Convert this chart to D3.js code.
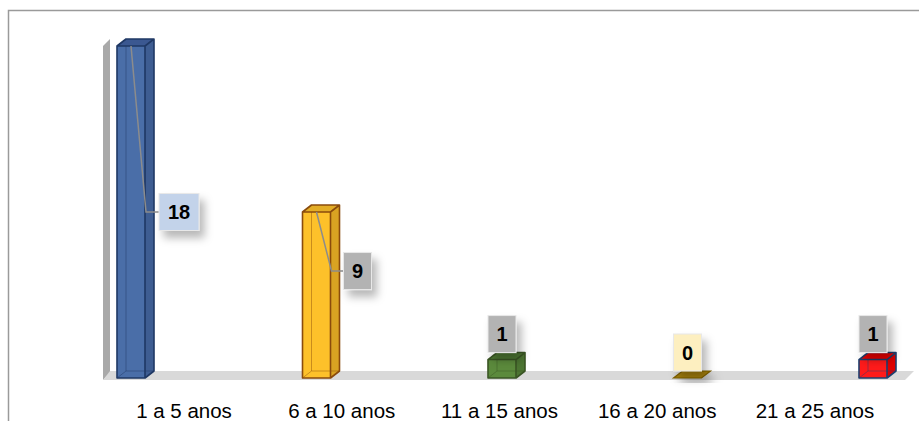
<!DOCTYPE html>
<html>
<head>
<meta charset="utf-8">
<script src="https://cdn.jsdelivr.net/npm/d3@7"></script>
<style>
  html, body { margin: 0; padding: 0; background: #fff; }
  svg { display: block; }
</style>
</head>
<body>
<div id="chart"></div>
<script>
const categories = ["1 a 5 anos", "6 a 10 anos", "11 a 15 anos", "16 a 20 anos", "21 a 25 anos"]
const values = [18, 9, 1, 0, 1]
const labelText = ["18", "9", "1", "0", "1"]

// look of each bar: front, side, top, edge, label box
const barStyles = [
  { front: "#4a6ea8", side: "#3e5d92", top: "#3b5891", edge: "#1f3864", box: "#c3d3ea" },
  { front: "#fdc12a", side: "#d9a322", top: "#e3ad26", edge: "#8a4b0c", box: "#b3b3b3" },
  { front: "#5b8a3c", side: "#4c7532", top: "#4f7a33", edge: "#3a5524", box: "#b3b3b3" },
  { front: "#a8820c", side: "#a8820c", top: "#a8820c", edge: "#7f6000", box: "#fdefc0" },
  { front: "#ff1a1a", side: "#e00000", top: "#f20000", edge: "#1f3f6e", box: "#b3b3b3" }
]

const W = 919, H = 421
const depthX = 9, depthY = -7
const barW = 28

const svg = d3.select("#chart").append("svg")
  .attr("width", W).attr("height", H)

const defs = svg.append("defs")
const shadow = defs.append("filter").attr("id", "shadow")
  .attr("x", "-50%").attr("y", "-50%").attr("width", "220%").attr("height", "220%")
shadow.append("feDropShadow")
  .attr("dx", 5).attr("dy", 7).attr("stdDeviation", 4)
  .attr("flood-color", "#000").attr("flood-opacity", 0.28)

// outer frame
svg.append("path")
  .attr("d", `M8.5,${H} V10.5 H${W}`)
  .attr("fill", "none").attr("stroke", "#9a9a9a").attr("stroke-width", 1.5)

const x = d3.scalePoint().domain(categories).range([131, 873])
const y = d3.scaleLinear().domain([0, 18]).range([378, 46])
const xLabel = d3.scalePoint().domain(categories).range([184, 815])

const y0 = y(0)

// side wall and floor
svg.append("path")
  .attr("d", `M103,${y0 + 2} V${y(18)} L${103 + 7},${y(18) + depthY} V${y0 + depthY + 2} Z`)
  .attr("fill", "#a9a9a9")
svg.append("path")
  .attr("d", `M103,${y0 + 2} H${905} L${905 + depthX},${y0 + depthY} H${103 + 7} Z`)
  .attr("fill", "#d9d9d9")

const bars = svg.selectAll(".bar").data(values).enter().append("g").attr("class", "bar")

bars.each(function (v, i) {
  const g = d3.select(this)
  const s = barStyles[i]
  const xl = x(categories[i]) - barW / 2
  const xr = xl + barW
  const yt = y(v)
  const yb = y0
  if (v === 0) {
    g.append("path")
      .attr("d", `M${xl},${yb} H${xr} L${xr + depthX},${yb + depthY} H${xl + depthX} Z`)
      .attr("fill", s.top).attr("stroke", s.edge).attr("stroke-width", 1.2)
      .attr("filter", "url(#shadow)")
    return
  }
  // side
  g.append("path")
    .attr("d", `M${xr},${yt} L${xr + depthX},${yt + depthY} V${yb + depthY} L${xr},${yb} Z`)
    .attr("fill", s.side)
  // front
  g.append("rect")
    .attr("x", xl).attr("y", yt).attr("width", barW).attr("height", yb - yt)
    .attr("fill", s.front)
  // back edges seen through the glass
  g.append("path")
    .attr("d", `M${xl + depthX},${yt + depthY} V${yb + depthY} H${xr + depthX} M${xl},${yb} L${xl + depthX},${yb + depthY}`)
    .attr("fill", "none").attr("stroke", s.edge).attr("stroke-opacity", 0.45).attr("stroke-width", 1)
  // top
  g.append("path")
    .attr("d", `M${xl},${yt} H${xr} L${xr + depthX},${yt + depthY} H${xl + depthX} Z`)
    .attr("fill", s.top)
  // outline
  g.append("path")
    .attr("d", `M${xl},${yb} V${yt} L${xl + depthX},${yt + depthY} H${xr + depthX} V${yb + depthY} L${xr},${yb} Z M${xl},${yt} H${xr} L${xr + depthX},${yt + depthY} M${xr},${yt} V${yb}`)
    .attr("fill", "none").attr("stroke", s.edge).attr("stroke-width", 1.6).attr("stroke-linejoin", "round")
})

// data labels: tall bars get a callout with leader line, short bars a box on top
const calloutAt = [9, 5.8]
const labels = svg.selectAll(".dlabel").data(values).enter().append("g").attr("class", "dlabel")
labels.each(function (v, i) {
  const g = d3.select(this)
  const s = barStyles[i]
  const cx = x(categories[i])
  const bw = labelText[i].length > 1 ? 40 : 28
  const bh = 37
  let bx, by
  if (i < calloutAt.length) {
    const ly = y(calloutAt[i])
    const xr = cx + barW / 2
    bx = i === 0 ? xr + 14 : xr + 13
    by = ly - bh / 2
    g.append("path")
      .attr("d", `M${cx},${y(v)} L${xr + 1},${ly} H${bx}`)
      .attr("fill", "none").attr("stroke", "#8c8c8c").attr("stroke-width", 1.5)
  } else {
    bx = cx - barW / 2
    by = y(v) + depthY - bh
  }
  g.append("rect")
    .attr("x", bx).attr("y", by).attr("width", bw).attr("height", bh)
    .attr("fill", s.box).attr("stroke", "#e8e8e8").attr("stroke-width", 1)
    .attr("filter", "url(#shadow)")
  g.append("text")
    .attr("x", bx + bw / 2).attr("y", by + bh / 2)
    .attr("dy", "0.36em")
    .attr("text-anchor", "middle")
    .attr("font-family", "Liberation Sans, Arial, sans-serif")
    .attr("font-weight", "bold").attr("font-size", "20px")
    .attr("fill", "#000")
    .text(labelText[i])
})

svg.selectAll(".cat").data(categories).enter().append("text")
  .attr("class", "cat")
  .attr("x", d => xLabel(d)).attr("y", 418)
  .attr("text-anchor", "middle")
  .attr("font-family", "Liberation Sans, Arial, sans-serif")
  .attr("font-size", "20.5px")
  .attr("fill", "#000")
  .text(d => d)
</script>
</body>
</html>
